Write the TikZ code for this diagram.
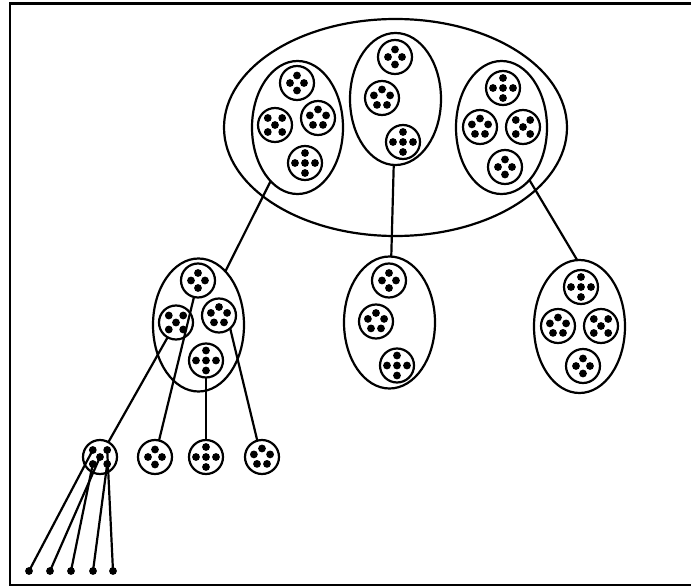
\documentclass[tikz,border=0pt]{standalone}
\usetikzlibrary{shapes.geometric}
\tikzset{
  blob/.style={ellipse,draw,line width=2.2pt,inner sep=0pt,outer sep=0pt},
  big/.style={blob,minimum width=343pt,minimum height=217pt},
  grp/.style={blob,minimum width=91pt,minimum height=133pt},
  cell/.style={circle,draw,line width=2.2pt,inner sep=0pt,outer sep=0pt,minimum size=34pt},
  dot/.style={circle,fill=black,draw=none,inner sep=0pt,outer sep=0pt,minimum size=7.8pt},
  link/.style={line width=2.2pt},
  frame/.style={line width=2.6pt},
  pics/diam/.style={code={
    \node[dot] (-t) at (0,-7.5) {}; \node[dot] (-l) at (-7,0) {};
    \node[dot] (-r) at (7,0) {};    \node[dot] (-b) at (0,7.5) {};}},
  pics/quinc/.style={code={
    \node[dot] (-tl) at (-7.2,-7) {}; \node[dot] (-tr) at (7.2,-7) {};
    \node[dot] (-c) at (0,0) {};
    \node[dot] (-bl) at (-7.2,7) {}; \node[dot] (-br) at (7.2,7) {};}},
  pics/penta/.style={code={
    \node[dot] (-t) at (0,-8.5) {}; \node[dot] (-r) at (8.1,-2.6) {};
    \node[dot] (-br) at (5,6.9) {}; \node[dot] (-bl) at (-5,6.9) {};
    \node[dot] (-l) at (-8.1,-2.6) {};}},
  pics/plusd/.style={code={
    \node[dot] (-c) at (0,0) {}; \node[dot] (-t) at (0,-10) {};
    \node[dot] (-b) at (0,10) {}; \node[dot] (-l) at (-10,0) {};
    \node[dot] (-r) at (10,0) {};}}
}
\begin{document}
\begin{tikzpicture}[x=1pt,y=-1pt]
\useasboundingbox (0,0) rectangle (691,586);
\draw[frame] (10,3.5) rectangle (692,585.5);

% level 1
\node[big] (O) at (395.5,127.5) {};
\node[grp] (A) at (297.5,127.5) {};
\node[grp,minimum height=132pt] (B) at (395.5,99) {};
\node[grp] (C) at (501.5,127.5) {};

\node[cell] (a1) at (297,83) {};  \pic (a1p) at (a1) {diam};
\node[cell] (a2) at (275,125) {}; \pic (a2p) at (a2) {quinc};
\node[cell] (a3) at (318,118) {}; \pic (a3p) at (a3) {penta};
\node[cell] (a4) at (305,163) {}; \pic (a4p) at (a4) {plusd};

\node[cell] (b1) at (395,57) {};  \pic (b1p) at (b1) {diam};
\node[cell] (b2) at (382,98) {};  \pic (b2p) at (b2) {penta};
\node[cell] (b3) at (403,142) {}; \pic (b3p) at (b3) {plusd};

\node[cell] (c1) at (503,88) {};  \pic (c1p) at (c1) {plusd};
\node[cell] (c2) at (480,127) {}; \pic (c2p) at (c2) {penta};
\node[cell] (c3) at (523,127) {}; \pic (c3p) at (c3) {quinc};
\node[cell] (c4) at (505,167) {}; \pic (c4p) at (c4) {diam};

% level 2
\node[grp] (D) at (198.5,325) {};
\node[cell] (d1) at (198,280.5) {}; \pic (d1p) at (d1) {diam};
\node[cell] (d2) at (176,322.5) {}; \pic (d2p) at (d2) {quinc};
\node[cell] (d3) at (219,315.5) {}; \pic (d3p) at (d3) {penta};
\node[cell] (d4) at (206,360.5) {}; \pic (d4p) at (d4) {plusd};

\node[grp,minimum height=132pt] (E) at (389.5,322.5) {};
\node[cell] (e1) at (389,280.5) {}; \pic (e1p) at (e1) {diam};
\node[cell] (e2) at (376,321.5) {}; \pic (e2p) at (e2) {penta};
\node[cell] (e3) at (397,365.5) {}; \pic (e3p) at (e3) {plusd};

\node[grp] (F) at (579.5,326.5) {};
\node[cell] (f1) at (581,287) {}; \pic (f1p) at (f1) {plusd};
\node[cell] (f2) at (558,326) {}; \pic (f2p) at (f2) {penta};
\node[cell] (f3) at (601,326) {}; \pic (f3p) at (f3) {quinc};
\node[cell] (f4) at (583,366) {}; \pic (f4p) at (f4) {diam};

% level 3
\node[cell] (g1) at (100,457) {}; \pic (g1p) at (g1) {quinc};
\node[cell] (g2) at (155,457) {}; \pic (g2p) at (g2) {diam};
\node[cell] (g3) at (206,457) {}; \pic (g3p) at (g3) {plusd};
\node[cell] (g4) at (262,457) {}; \pic (g4p) at (g4) {penta};

% level 4
\node[dot] (h1) at (29,571) {};
\node[dot] (h2) at (50,571) {};
\node[dot] (h3) at (71,571) {};
\node[dot] (h4) at (93,571) {};
\node[dot] (h5) at (113,571) {};

% connectors
\draw[link] (A) -- (D);
\draw[link] (B) -- (E);
\draw[link] (C.-62) -- (F.92);
\draw[link] (d2) -- (g1);
\draw[link] (d1) -- (g2);
\draw[link] (d4) -- (g3);
\draw[link] (d3.-49) -- (g4.106);
\draw[link] (g1p-tl.center) -- (h1.center);
\draw[link] (g1p-c.center) -- (h2.center);
\draw[link] (g1p-bl.center) -- (h3.center);
\draw[link] (g1p-br.center) -- (h4.center);
\draw[link] (g1p-tr.center) -- (h5.center);
\end{tikzpicture}
\end{document}
